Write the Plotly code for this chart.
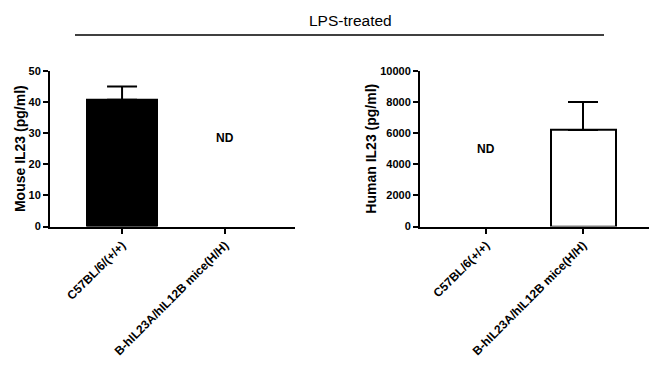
import plotly.graph_objects as go

cats_left = ["C57BL/6/(+/+)", "B-hIL23A/hIL12B mice(H/H)"]
mouse_vals = [40.7, None]
mouse_err = [4.3, 0]
cats_right = ["C57BL/6(+/+)", "B-hIL23A/hIL12B mice(H/H)"]
human_vals = [None, 6200]
human_err = [0, 1800]
left_ticks = [0, 10, 20, 30, 40, 50]
right_ticks = [0, 2000, 4000, 6000, 8000, 10000]

FONT = "Liberation Sans, Arial, sans-serif"

fig = go.Figure()
fig.add_trace(go.Bar(
    x=[0, 1], y=mouse_vals, width=0.68,
    marker=dict(color="black", line=dict(color="black", width=2)),
    error_y=dict(type="data", array=mouse_err, arrayminus=[0, 0], symmetric=False,
                 color="black", thickness=2, width=15),
    xaxis="x", yaxis="y", showlegend=False))
fig.add_trace(go.Bar(
    x=[0, 1], y=human_vals, width=0.67,
    marker=dict(color="white", line=dict(color="black", width=2)),
    error_y=dict(type="data", array=human_err, arrayminus=[0, 0], symmetric=False,
                 color="black", thickness=2, width=15),
    xaxis="x2", yaxis="y2", showlegend=False))

H = 369.0
W = 658.0
ydom = [1 - 228 / H, 1 - 67 / H]

axis_common = dict(showline=True, linecolor="black", linewidth=2, ticks="outside",
                   ticklen=5, tickwidth=2, tickcolor="black", showgrid=False,
                   zeroline=False)
tick_y = dict(family=FONT, size=11, color="black", weight="bold")
tick_x = dict(family=FONT, size=12, color="black", weight="bold")
title_font = dict(family=FONT, size=14, color="black", weight="bold")

fig.update_layout(
    width=658, height=369, margin=dict(l=0, r=0, t=0, b=0),
    plot_bgcolor="white", paper_bgcolor="white", bargap=0,
    xaxis=dict(domain=[50 / W, 295 / W], range=[-0.70, 1.68], tickmode="array",
               tickvals=[0, 1], ticktext=cats_left, tickangle=-45, anchor="y",
               tickfont=tick_x, **axis_common),
    yaxis=dict(domain=ydom, range=[0, 50], tickmode="array", tickvals=left_ticks,
               ticktext=[str(v) for v in left_ticks], anchor="x", tickfont=tick_y,
               title=dict(text="Mouse IL23 (pg/ml)", standoff=0, font=title_font),
               **axis_common),
    xaxis2=dict(domain=[420 / W, 649 / W], range=[-0.68, 1.68], tickmode="array",
                tickvals=[0, 1], ticktext=cats_right, tickangle=-45, anchor="y2",
                tickfont=tick_x, **axis_common),
    yaxis2=dict(domain=ydom, range=[0, 10000], tickmode="array", tickvals=right_ticks,
                ticktext=[str(v) for v in right_ticks], anchor="x2", tickfont=tick_y,
                title=dict(text="Human IL23 (pg/ml)", standoff=0, font=title_font),
                **axis_common),
)

fig.add_annotation(x=1, y=28.3, xref="x", yref="y", text="ND", showarrow=False,
                   font=dict(family=FONT, size=12, color="black", weight="bold"))
fig.add_annotation(x=0, y=4970, xref="x2", yref="y2", text="ND", showarrow=False,
                   font=dict(family=FONT, size=12, color="black", weight="bold"))
fig.add_annotation(x=350 / W, y=1 - 15 / H, xref="paper", yref="paper",
                   xanchor="center", yanchor="middle",
                   text="LPS-treated", showarrow=False,
                   font=dict(family=FONT, size=15.5, color="black"))
fig.add_shape(type="line", xref="paper", yref="paper", x0=75 / W, x1=604 / W,
              y0=1 - 30 / H, y1=1 - 30 / H, line=dict(color="black", width=1.5))

fig.write_html("out.html", config={"displayModeBar": False},
               post_script="document.body.style.margin='0';document.body.style.overflow='hidden';")
